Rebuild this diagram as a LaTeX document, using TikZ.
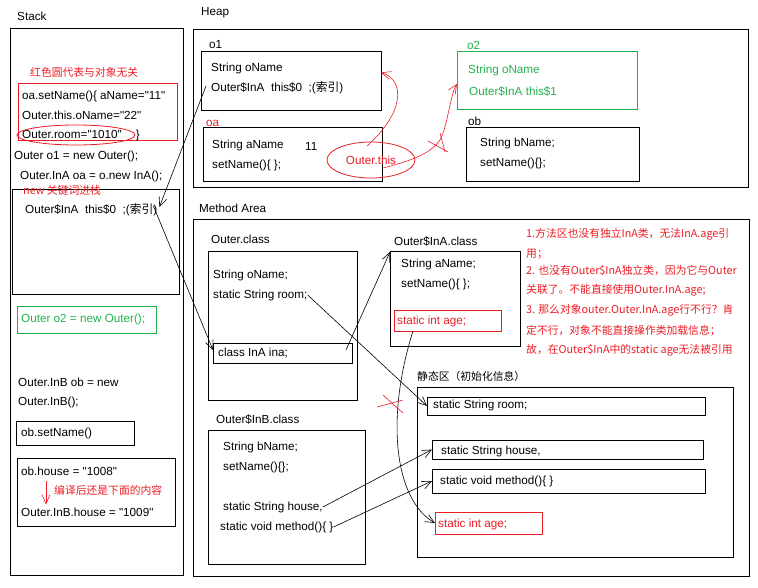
\documentclass[tikz,border=0pt]{standalone}
\usepackage{fontspec}
\newfontfamily\latin{Liberation Sans}
\newfontfamily\cjk{Noto Sans CJK SC}
\usepackage{xcolor}
\usepackage{tikz}
\usetikzlibrary{shapes.geometric, arrows.meta}
\definecolor{paintred}{RGB}{237,28,36}
\definecolor{paintgreen}{RGB}{34,177,76}
\tikzstyle{txt} = [anchor=west, inner sep=0pt, font=\latin\fontsize{11.7}{13}\selectfont]
\tikzstyle{redtxt} = [txt, text=paintred]
\tikzstyle{greentxt} = [txt, text=paintgreen]
\tikzstyle{cjktxt} = [redtxt, font=\cjk\fontsize{10.8}{12}\selectfont]
\tikzstyle{frame} = [draw, line width=1pt, anchor=north west, inner sep=0pt, outer sep=0pt]
\tikzstyle{conn} = [line width=0.6pt, -{Straight Barb[length=9pt, width=8pt]}]
\tikzstyle{redconn} = [conn, draw=paintred]

\begin{document}
\begin{tikzpicture}[x=1pt, y=-1pt]
  \useasboundingbox (0,0) rectangle (758,588);

  % Areas
  \node[txt] (stacktitle) at (17,16) {Stack};
  \node[txt] (heaptitle) at (201,13) {Heap};
  \node[txt] (methodtitle) at (199,208) {Method Area};
  \node (stack) [frame, minimum width=173, minimum height=546] at (10,29) {};
  \node (heap) [frame, minimum width=555, minimum height=158] at (193,30) {};
  \node (method) [frame, minimum width=556, minimum height=356] at (193,220) {};

  % Stack
  \node[cjktxt] (hint) at (30,72) {红色圆代表与对象无关};
  \node (setbox) [frame, draw=paintred, minimum width=159, minimum height=57] at (18,84) {};
  \node[txt] (set1) at (22,96) {oa.setName()\{ aName="11"};
  \node[txt] (set2) at (22,115) {Outer.this.oName="22"};
  \node[txt] (set3) at (22,135) {Outer.room="1010"\hspace{14pt}\}};
  \node (roomring) [ellipse, draw=paintred, line width=0.8pt, minimum width=118, minimum height=20, inner sep=0pt] at (76,135) {};
  \node[txt] (newo1) at (14,156) {Outer o1 = new Outer();};
  \node[txt] (newoa) at (20,176) {Outer.InA oa = o.new InA();};
  \node (oaframe) [frame, minimum width=167, minimum height=104] at (12,190) {};
  \node[cjktxt] (newnote) at (23,190) {new 关键词进栈};
  \node[txt] (sthis) at (25,210) {Outer\$InA\ \ this\$0\ \ ;({\cjk 索引})};
  \node (o2frame) [frame, draw=paintgreen, minimum width=139, minimum height=27] at (17,306) {};
  \node[greentxt] (newo2) at (21,319) {Outer o2 = new Outer();};
  \node[txt] (newob1) at (18,382) {Outer.InB ob = new};
  \node[txt] (newob2) at (18,402) {Outer.InB();};
  \node (obsetframe) [frame, minimum width=118, minimum height=24] at (16,421) {};
  \node[txt] (obset) at (21,433) {ob.setName()};
  \node (houseframe) [frame, minimum width=158, minimum height=68] at (17,458) {};
  \node[txt] (house1) at (21,471) {ob.house = "1008"};
  \node[cjktxt] (housenote) at (54,490) {编译后还是下面的内容};
  \node[txt] (house2) at (21,512) {Outer.InB.house = "1009"};

  % Heap
  \node[txt] (o1title) at (209,45) {o1};
  \node (o1box) [frame, minimum width=180, minimum height=59] at (201,52) {};
  \node[txt] (o1name) at (211,68) {String oName};
  \node[txt] (o1this) at (211,88) {Outer\$InA\ \ this\$0\ \ ;({\cjk 索引})};
  \node[redtxt] (oatitle) at (206,123) {oa};
  \node (oabox) [frame, minimum width=179, minimum height=54] at (203,128) {};
  \node[txt] (oaname) at (212,145) {String aName};
  \node[txt] (oaval) at (305,146) {11};
  \node[txt] (oaset) at (212,165) {setName()\{ \};};
  \node (outerthis) [ellipse, draw=paintred, text=paintred, line width=0.8pt, minimum width=88, minimum height=36, inner sep=0pt, font=\latin\fontsize{11.7}{13}\selectfont] at (371,160) {Outer.this};
  \node[greentxt] (o2title) at (467,45) {o2};
  \node (o2box) [frame, draw=paintgreen, minimum width=180, minimum height=58] at (457,52) {};
  \node[greentxt] (o2name) at (468,70) {String oName};
  \node[greentxt] (o2this) at (469,92) {Outer\$InA this\$1};
  \node[txt] (obtitle) at (468,121) {ob};
  \node (obbox) [frame, minimum width=173, minimum height=54] at (466,128) {};
  \node[txt] (obname) at (480,143) {String bName;};
  \node[txt] (obsetname) at (480,163) {setName()\{\};};

  % Method Area
  \node[txt] (outertitle) at (211,239) {Outer.class};
  \node (outerclass) [frame, minimum width=149, minimum height=148] at (208,252) {};
  \node[txt] (outername) at (213,275) {String oName;};
  \node[txt] (outerroom) at (213,295) {static String room;};
  \node (inabox) [frame, minimum width=139, minimum height=20] at (213,343) {};
  \node[txt] (inatxt) at (218,353) {class InA ina;};
  \node[txt] (inatitle) at (394,242) {Outer\$InA.class};
  \node (inaclass) [frame, minimum width=130, minimum height=94] at (390,252) {};
  \node[txt] (inaname) at (401,264) {String aName;};
  \node[txt] (inaset) at (401,284) {setName()\{ \};};
  \node (agebox) [frame, draw=paintred, minimum width=107, minimum height=21] at (394,310) {};
  \node[redtxt] (agetxt) at (397,321) {static int age;};
  \node[txt] (inbtitle) at (216,420) {Outer\$InB.class};
  \node (inbclass) [frame, minimum width=157, minimum height=134] at (208,430) {};
  \node[txt] (inbname) at (223,447) {String bName;};
  \node[txt] (inbset) at (223,467) {setName()\{\};};
  \node[txt] (inbhouse) at (223,507) {static String house,};
  \node[txt] (inbmethod) at (220,527) {static void method()\{ \}};

  % Notes
  \node[cjktxt] (note1) at (526,234) {1.方法区也没有独立InA类，无法InA.age引};
  \node[cjktxt] (note2) at (526,254) {用；};
  \node[cjktxt] (note3) at (526,271) {2. 也没有Outer\$InA独立类，因为它与Outer};
  \node[cjktxt] (note4) at (526,290) {关联了。不能直接使用Outer.InA.age;};
  \node[cjktxt] (note5) at (526,310) {3. 那么对象outer.Outer.InA.age行不行？肯};
  \node[cjktxt] (note6) at (526,331) {定不行，对象不能直接操作类加载信息；};
  \node[cjktxt] (note7) at (526,350) {故，在Outer\$InA中的static age无法被引用};

  % Static area
  \node[cjktxt, text=black] (statictitle) at (417,376) {静态区（初始化信息）};
  \node (static) [frame, minimum width=316, minimum height=170] at (417,387) {};
  \node (sroom) [frame, minimum width=278, minimum height=18] at (427,397) {};
  \node[txt] (sroomtxt) at (433,405) {static String room;};
  \node (shouse) [frame, minimum width=271, minimum height=19] at (432,440) {};
  \node[txt] (shousetxt) at (441,451) {static String house,};
  \node (smethod) [frame, minimum width=273, minimum height=24] at (432,469) {};
  \node[txt] (smethodtxt) at (440,481) {static void method()\{ \}};
  \node (sage) [frame, draw=paintred, minimum width=107, minimum height=22] at (435,512) {};
  \node[redtxt] (sagetxt) at (438,524) {static int age;};

  % Arrows
  \draw [redconn] ([shift={(25,6)}]house1.south west) -- ([shift={(25,-3)}]house2.north west);
  \draw [conn] ([shift={(-5,-2)}]o1this.west) -- ([shift={(2,-3)}]sthis.east);
  \draw [conn] ([shift={(-4,-4)}]sthis.east) -- ([shift={(0,-3)}]inabox.west);
  \draw [conn] ([shift={(-6,-3)}]inabox.east) -- (inaclass.north west);
  \draw [conn] (outerroom.east) -- (sroom.west);
  \draw [conn] ([shift={(19,0)}]agebox.south west) .. controls (385,420) and (395,500) .. (sage.west);
  \draw [conn] (inbhouse.east) -- (shouse.west);
  \draw [conn] (inbmethod.east) -- (smethod.west);
  \draw [redconn] ([shift={(-4,-14)}]outerthis.center) .. controls (405,112) and (405,80) .. ([shift={(0,-9)}]o1box.east);
  \draw [redconn] ([shift={(12,8)}]outerthis.center) .. controls (415,160) and (432,152) .. (440,140) .. controls (448,125) and (450,95) .. ([shift={(0,3)}]o2box.west);

  % Crosses
  \draw [paintred, line width=0.6pt] (377,407) -- (403,400) (383,395) -- (403,413);
  \draw [paintred, line width=0.6pt] (428,141) -- (448,152) (440,133) -- (445,152);

\end{tikzpicture}
\end{document}
